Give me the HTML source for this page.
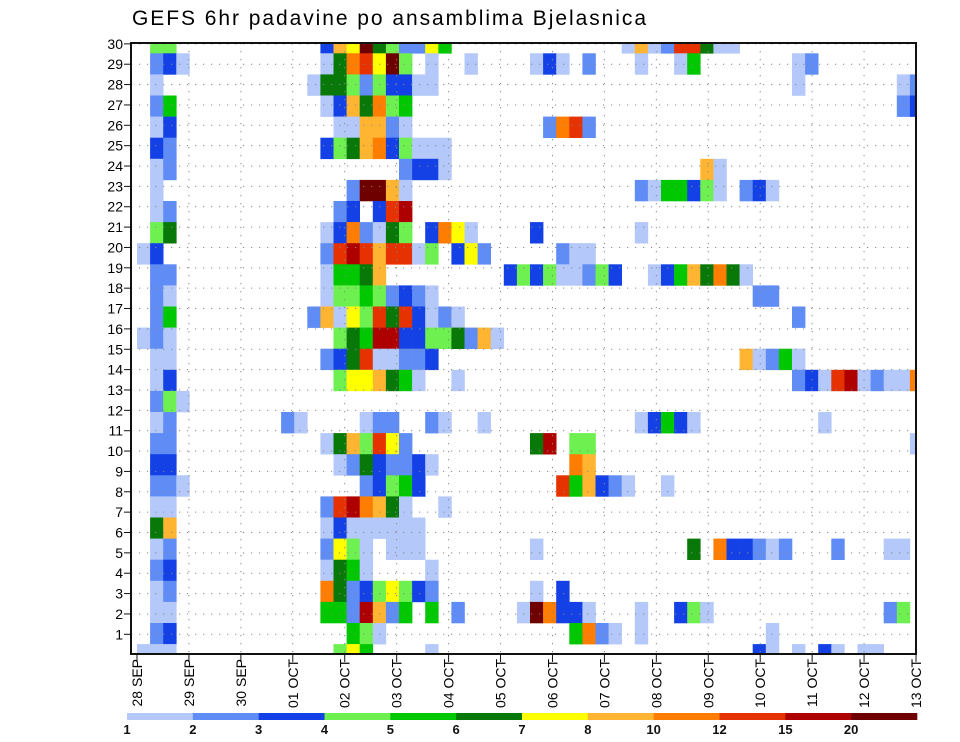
<!DOCTYPE html>
<html><head><meta charset="utf-8"><style>
html,body{margin:0;padding:0;background:#fff;}
svg{display:block;font-family:"Liberation Sans",sans-serif;}
</style></head><body>
<svg id="chart" width="960" height="742" viewBox="0 0 960 742" xmlns="http://www.w3.org/2000/svg">
<text x="132" y="25" font-size="21" textLength="514" fill="#000">GEFS 6hr padavine po ansamblima Bjelasnica</text>
<g id="cells"></g>
<g id="grid"></g>
<g id="axes"></g>
<g id="cbar"></g>
</svg>
<script>
// ---- data ----
const members = [30,29,28,27,26,25,24,23,22,21,20,19,18,17,16,15,14,13,12,11,10,9,8,7,6,5,4,3,2,1];
const dayLabels = ["28 SEP","29 SEP","30 SEP","01 OCT","02 OCT","03 OCT","04 OCT","05 OCT","06 OCT","07 OCT","08 OCT","09 OCT","10 OCT","11 OCT","12 OCT","13 OCT"];
const levelLabels = ["1","2","3","4","5","6","7","8","10","12","15","20"];
const levelColors = ["#b4c8fa","#5f8cf5","#1441e6","#6ef050","#00c800","#087808","#ffff00","#ffb432","#ff7d00","#e63200","#af0000","#6e0000"];
// per member: "step:level" (step = 6h index from 28 SEP 00, level 1..12 hex)
const memberCells = [
"1:4 2:4 14:3 15:8 16:7 17:c 18:6 19:4 20:2 21:2 22:7 23:5 37:1 38:8 39:1 40:2 41:a 42:a 43:6 44:1 45:1",
"1:2 2:3 3:1 14:1 15:6 16:9 17:a 18:7 19:c 20:4 22:1 25:1 30:1 31:3 32:1 34:2 38:1 41:1 42:5 50:1 51:2",
"1:1 13:1 14:6 15:6 16:4 17:2 18:4 19:3 20:3 21:1 22:1 50:1 58:1 59:2",
"1:2 2:5 14:1 15:3 16:8 17:6 18:9 19:4 20:5 58:2 59:3",
"1:1 2:3 15:1 16:1 17:8 18:8 19:2 20:1 31:2 32:9 33:a 34:2",
"1:3 2:2 14:3 15:4 16:6 17:8 18:9 19:3 20:4 21:1 22:1 23:1",
"1:1 2:2 20:2 21:3 22:3 23:1 43:8 44:1",
"1:1 16:2 17:c 18:c 19:8 20:1 38:2 39:1 40:5 41:5 42:3 43:4 44:1 46:2 47:3 48:1",
"1:1 2:2 15:2 16:3 18:3 19:a 20:b",
"1:4 2:6 14:1 15:3 16:9 17:2 18:1 19:6 20:4 22:3 23:9 24:7 25:1 30:3 38:1",
"0:1 1:3 14:2 15:a 16:b 17:a 18:8 19:a 20:a 21:1 22:4 24:3 25:7 26:2 32:2 33:1 34:1",
"1:2 2:2 14:1 15:5 16:5 17:6 18:8 28:3 29:4 30:3 31:4 32:1 33:1 34:2 35:4 36:3 39:1 40:3 41:5 42:8 43:6 44:9 45:6 46:1",
"1:2 2:1 14:1 15:4 16:4 17:5 18:4 19:2 20:3 21:2 22:1 47:2 48:2",
"1:2 2:5 13:2 14:8 15:1 16:7 17:4 18:a 19:6 20:a 21:3 22:1 23:2 24:1 50:2",
"0:1 1:2 2:1 15:4 16:6 17:5 18:b 19:b 20:3 21:3 22:4 23:4 24:6 25:2 26:8 27:1",
"1:1 2:1 14:2 15:3 16:6 17:a 18:1 19:1 20:2 21:2 22:3 46:8 47:1 48:2 49:5 50:1",
"1:1 2:3 15:4 16:7 17:7 18:8 19:6 20:5 21:1 24:1 50:2 51:3 52:1 53:a 54:b 55:1 56:2 57:1 58:1 59:9",
"1:2 2:4 3:1",
"1:1 2:2 11:2 12:1 17:1 18:2 19:2 22:2 23:1 26:1 38:1 39:3 40:5 41:3 42:1 52:1",
"1:2 2:2 14:1 15:6 16:8 17:4 18:a 19:7 20:2 30:6 31:b 33:4 34:4 59:1",
"1:3 2:3 15:1 16:2 17:6 18:3 19:2 20:2 21:3 22:1 33:9 34:8",
"1:2 2:2 3:1 17:2 18:3 19:4 20:5 21:3 32:a 33:5 34:8 35:3 36:2 37:1 40:1",
"1:1 2:1 14:2 15:a 16:b 17:9 18:8 19:6 20:1 23:1",
"1:6 2:8 14:1 15:3 16:1 17:1 18:1 19:1 20:1 21:1",
"1:1 2:2 14:2 15:7 16:4 17:1 19:1 20:1 21:1 30:1 42:6 44:9 45:3 46:3 47:2 48:1 49:2 53:2 57:1 58:1",
"1:2 2:3 14:1 15:6 16:5 17:1 22:1",
"1:1 2:2 14:9 15:6 16:2 17:3 18:4 19:7 20:4 21:3 22:2 30:1 32:3",
"1:1 2:1 14:5 15:5 16:2 17:b 18:8 19:2 20:5 22:5 24:2 29:1 30:c 31:9 32:3 33:3 34:1 38:1 41:3 42:4 43:1 57:2 58:4",
"1:2 2:3 16:5 17:4 18:1 33:5 34:9 35:2 36:1 38:1 48:1",
"0:1 1:1 2:1 15:4 16:7 17:5 22:1 47:3 48:1 50:1 52:3 53:1 55:1 56:1"
];
// ---- scales ----
const PL=131, PR=916, PT=43, PB=654, X0=137, X1=916, CELLW=13.1;
const NS="http://www.w3.org/2000/svg";
function xStep(k){ return X0 + CELLW*k; }
function xDay(d){ return X0 + (X1-X0)*d/15; }
function yCellTop(m){ return 53.3 + 21.1*(29-m); }
function yLabel(n){ return 634.3 - 20.36*(n-1); }
function mk(tag, attrs, parent){ const e=document.createElementNS(NS,tag); for(const k in attrs) e.setAttribute(k,attrs[k]); parent.appendChild(e); return e; }
const cells=document.getElementById('cells'), grid=document.getElementById('grid'), axes=document.getElementById('axes'), cbar=document.getElementById('cbar');
const defs=mk('defs',{},document.getElementById('chart'));
const cp=mk('clipPath',{id:'plotclip'},defs);
mk('rect',{x:PL,y:PT,width:PR-PL,height:PB-PT},cp);
cells.setAttribute('clip-path','url(#plotclip)');
// cells
members.forEach((m,i)=>{
  memberCells[i].split(' ').forEach(tok=>{
    if(!tok) return;
    const [k,v]=tok.split(':');
    const lev=parseInt(v,16);
    const r=mk('rect',{x:xStep(+k),y:yCellTop(m),width:CELLW+0.3,height:21.4,fill:levelColors[lev-1]},cells);
    
    
  });
});
// grid
for(let d=1; d<15; d++){
  const l=mk('line',{x1:xDay(d),x2:xDay(d),y1:PT,y2:PB,stroke:'#888','stroke-width':1,'stroke-dasharray':'1.2,6.8'},grid);
  
  
}
for(let n=1;n<=30;n++){
  const l=mk('line',{x1:PL,x2:PR,y1:yLabel(n),y2:yLabel(n),stroke:'#888','stroke-width':1,'stroke-dasharray':'1.2,6.8'},grid);
  
  
}
const fr=mk('rect',{x:PL,y:PT,width:PR-PL,height:PB-PT,fill:'none',stroke:'#111','stroke-width':2},axes);


for(let n=1;n<=30;n++){
  const y=yLabel(n);
  mk('line',{x1:PL-7,x2:PL,y1:y,y2:y,stroke:'#111','stroke-width':1},axes);
  const t=mk('text',{x:PL-8,y:y+5,'text-anchor':'end','font-size':14,fill:'#000'},axes);
  t.textContent=String(n);
  
  
}
dayLabels.forEach((lab,d)=>{
  const x=xDay(d);
  mk('line',{x1:x,x2:x,y1:PB,y2:PB+8,stroke:'#111','stroke-width':1},axes);
  const t=mk('text',{transform:'translate('+(x+5)+','+(PB+5)+') rotate(-90)','text-anchor':'end','font-size':14,fill:'#000'},axes);
  t.textContent=lab;
  
  
});
const CB0=127, CB1=917, cw=(CB1-CB0)/levelColors.length;
levelColors.forEach((c,i)=>{
  const r=mk('rect',{x:CB0+i*cw,y:713,width:cw+0.3,height:7,fill:c},cbar);
  
  
});
levelLabels.forEach((l,i)=>{
  const t=mk('text',{x:CB0+i*cw,y:734,'text-anchor':'middle','font-size':13,'font-weight':'bold',fill:'#111'},cbar);
  t.textContent=l;
  
  
});
</script>
</body></html>
